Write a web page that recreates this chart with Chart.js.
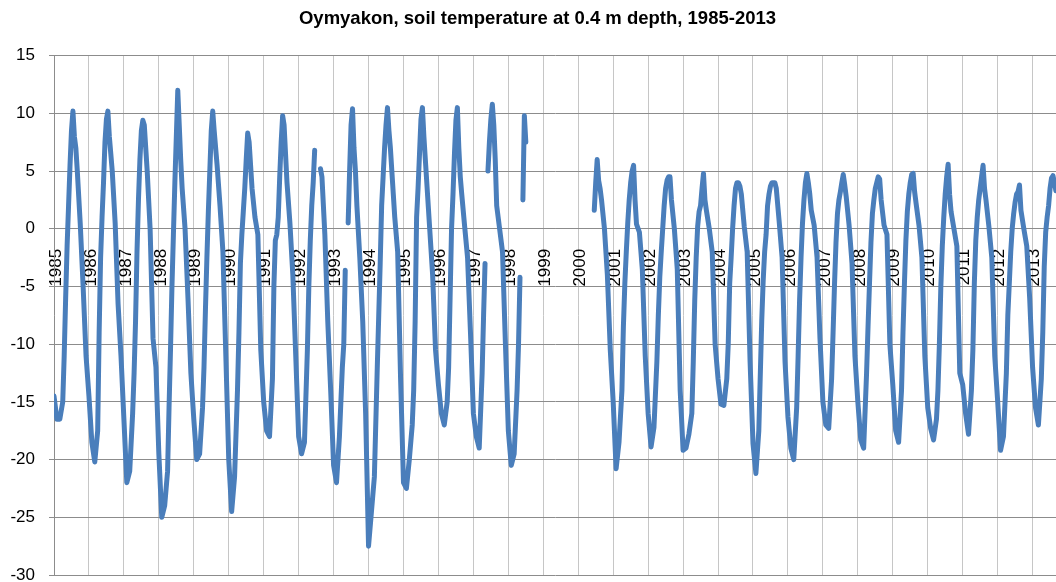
<!DOCTYPE html>
<html>
<head>
<meta charset="utf-8">
<title>Oymyakon soil temperature</title>
<script src="https://cdn.jsdelivr.net/npm/chart.js@4.4.1/dist/chart.umd.min.js"></script>
<style>
  html, body { margin: 0; padding: 0; background: #fff; }
  #wrap { width: 1056px; height: 582px; }
</style>
</head>
<body>
<div id="wrap"><canvas id="soilChart"></canvas></div>
<script>
// sample points inside each year, in months from 1 January
const monthOffsets = [0, 1, 2, 3, 3.5, 4, 4.5, 5, 5.5, 6, 6.5, 7, 7.5, 8, 9, 10, 11];

// soil temperature at 0.4 m (deg C); null = no data
const t1985 = [-14.5, -16.5, -16.5, -15, -11, -6, -1.5, 2, 5.5, 8.5, 10.2, 8, 7, 5, 0.5, -5, -11];
const t1986 = [-14.5, -18.5, -20.2, -17.5, -9, -2.5, 1, 4, 7.5, 9.5, 10.2, 8, 6.5, 5, 0.5, -6.5, -11];
const t1987 = [-16.5, -22, -21, -16, -12.5, -8, -2, 2.5, 6, 8.5, 9.4, 9, 7, 5, 0, -9.5, -12];
const t1988 = [-19.5, -25, -24, -21, -15.5, -10.5, -5, -0.5, 4, 8, 12, 9, 6, 3.5, 0, -6, -12.5];
const t1989 = [-16.5, -20, -19.5, -15.5, -12, -7, -2.5, 1.5, 5, 8.5, 10.2, 8.5, 7, 5.5, 2, -2, -11];
const t1990 = [-20, -24.5, -21.5, -14, -9, -3, -0.5, 1.5, 3.5, 6, 8.3, 7.5, 5.5, 3.5, 1, -0.5, -10.5];
const t1991 = [-15, -17.5, -18, -13, -5, -1, -0.5, 1, 4.5, 7.5, 9.8, 9, 6.5, 4, 0.5, -4, -11];
const t1992 = [-18, -19.5, -18.5, -10.5, -5, -1, 2, 4, 6.8, null, null, null, 5.2, 4.5, -0.5, -8, -14];
const t1993 = [-20.5, -22, -18, -12, -10, -3.6, null, 0.5, 5, 9, 10.4, 7, 5, 2, -2.5, -8, -16];
const t1994 = [-27.5, -24.5, -21.5, -12, -7.5, -3, 2, 4.5, 7, 9, 10.5, 8.5, 7, 5, 1, -2, -13];
const t1995 = [-22, -22.5, -20, -17, -14, -8, 1, 3.5, 6.5, 9.5, 10.5, 8, 6, 4, 0, -4, -10.5];
const t1996 = [-13.5, -16, -17, -15, -12, -6, 0, 3, 6.5, 9.4, 10.5, 7, 4.5, 3, 0.2, -2.5, -9];
const t1997 = [-16, -18, -19, -12.5, -7.5, -3, null, 5, 7.5, 9.5, 10.8, 9, 6, 2, 0, -2, -10];
const t1998 = [-17.5, -20.5, -19.5, -14, -10, -4.2, null, 2.5, 9.8, 7.5, null, null, null, null, null, null, null];
const t1999 = [null, null, null, null, null, null, null, null, null, null, null, null, null, null, null, null, null];
const t2000 = [null, null, null, null, null, null, null, null, 1.6, 4, 6, 4.2, 3.5, 2.5, 0, -4, -10.5];
const t2001 = [-15, -20.8, -18.5, -14, -8.5, -4.75, -2, 0.5, 2.5, 4, 5, 5.5, 2.5, 0.4, -0.3, -3.5, -11];
const t2002 = [-16, -18.9, -17.2, -11.5, -7.5, -4.2, -2, 0, 2, 3.5, 4.2, 4.5, 4.5, 2.5, 0, -3.5, -14];
const t2003 = [-19.2, -19, -17.8, -16, -11.5, -6.2, -2.5, 0.2, 1.5, 2, 3.5, 4.8, 2.5, 1.6, 0, -2, -10];
const t2004 = [-13, -15.2, -15.3, -13, -10, -4.75, -2.5, 0, 2, 3.5, 4, 4, 3.7, 3, 0.2, -2, -11.5];
const t2005 = [-18.6, -21.2, -17.5, -8, -4.5, -2, -0.5, 2, 3, 3.7, 4, 4, 4, 3.5, 0.6, -2.5, -11.5];
const t2006 = [-16.3, -19, -20, -15.5, -11, -6.2, -2.5, 0.5, 2.5, 4, 4.8, 4, 3, 1.6, 0.3, -2.5, -9.5];
const t2007 = [-15, -17, -17.3, -13, -9, -4.75, -1.2, 1.3, 2.5, 3.2, 4, 4.7, 3.8, 2.8, 0.3, -3, -11];
const t2008 = [-15, -18.3, -19, -12.5, -8.5, -4.75, -1.2, 1.3, 2.5, 3.5, 4, 4.5, 4.3, 2.5, 0.3, -0.5, -10];
const t2009 = [-13.5, -17.5, -18.5, -14, -9, -4.75, -1, 1.5, 3, 4, 4.7, 4.8, 3.2, 2.2, 0.3, -2.5, -11];
const t2010 = [-15.5, -17.3, -18.3, -16.5, -14, -10, -5, -1.5, 1, 3, 4.5, 5.6, 3, 1.5, 0, -1.5, -12.5];
const t2011 = [-13.5, -16, -17.8, -14, -10.5, -4.75, -1, 1, 2.5, 3.5, 4.5, 5.5, 3.5, 2.5, 0.2, -2.5, -11];
const t2012 = [-14.9, -19.2, -18, -12.5, -7.5, -4.75, -2, 0, 1.3, 2.3, 3, 3.2, 3.8, 1.6, 0, -1.5, -6];
const t2013 = [-12, -15.5, -17, -13, -9, -3.3, -0.3, 1, 2, 3.5, 4.4, 4.6, 4, 3.3, null, null, null];

const years = [1985, 1986, 1987, 1988, 1989, 1990, 1991, 1992, 1993, 1994, 1995, 1996, 1997, 1998, 1999,
  2000, 2001, 2002, 2003, 2004, 2005, 2006, 2007, 2008, 2009, 2010, 2011, 2012, 2013];
const series = [t1985, t1986, t1987, t1988, t1989, t1990, t1991, t1992, t1993, t1994, t1995, t1996, t1997, t1998, t1999,
  t2000, t2001, t2002, t2003, t2004, t2005, t2006, t2007, t2008, t2009, t2010, t2011, t2012, t2013];

const yTicks = [-30, -25, -20, -15, -10, -5, 0, 5, 10, 15];

const points = [];
years.forEach((yr, i) => {
  series[i].forEach((v, j) => {
    points.push({ x: yr + monthOffsets[j] / 12, y: v });
  });
});

const labelFont = { family: 'Liberation Sans', size: 17 };

// title is centred on the plot in the original, not on the canvas
const shiftTitle = {
  id: 'shiftTitle',
  afterLayout(chart) {
    if (chart.titleBlock) {
      chart.titleBlock.left = 19;
    }
  }
};

const ctx = document.getElementById('soilChart').getContext('2d');
const myChart = new Chart(ctx, {
  type: 'line',
  data: {
    datasets: [{
      label: 'Soil temperature, 0.4 m',
      data: points,
      borderColor: '#4a7ebb',
      backgroundColor: '#4a7ebb',
      borderWidth: 5,
      pointRadius: 0,
      pointHoverRadius: 0,
      tension: 0,
      spanGaps: false,
      borderJoinStyle: 'round',
      borderCapStyle: 'round'
    }]
  },
  options: {
    responsive: true,
    maintainAspectRatio: false,
    animation: false,
    layout: { padding: { left: 0, right: 0, top: 0, bottom: 7 } },
    plugins: {
      legend: { display: false },
      tooltip: { enabled: false },
      title: {
        display: true,
        text: 'Oymyakon, soil temperature at 0.4 m depth, 1985-2013',
        color: '#000',
        font: { family: 'Liberation Sans', size: 18.5, weight: 'bold' },
        padding: { top: 8, bottom: 25.5 }
      }
    },
    scales: {
      x: {
        type: 'linear',
        position: { y: 0 },
        min: 1985,
        max: 2013.67,
        afterFit: (axis) => {
          axis.paddingLeft = 0;
          axis.paddingRight = 0;
        },
        grid: { color: '#c6c6c6', lineWidth: 1, drawTicks: false },
        border: { display: true, color: '#8c8c8c', width: 1 },
        ticks: {
          stepSize: 1,
          includeBounds: false,
          autoSkip: false,
          minRotation: 90,
          maxRotation: 90,
          padding: 20,
          labelOffset: 2,
          color: '#000',
          font: labelFont,
          callback: (v) => String(v)
        }
      },
      y: {
        min: -30,
        max: 15,
        afterBuildTicks: (axis) => { axis.ticks = yTicks.map((v) => ({ value: v })); },
        afterFit: (axis) => {
          axis.width = 54;
          axis.paddingTop = 0;
          axis.paddingBottom = 0;
        },
        grid: { color: '#8c8c8c', lineWidth: 1, tickLength: 5 },
        border: { display: true, color: '#8c8c8c', width: 1 },
        ticks: {
          padding: 14,
          color: '#000',
          font: labelFont
        }
      }
    }
  },
  plugins: [shiftTitle]
});
</script>
</body>
</html>
